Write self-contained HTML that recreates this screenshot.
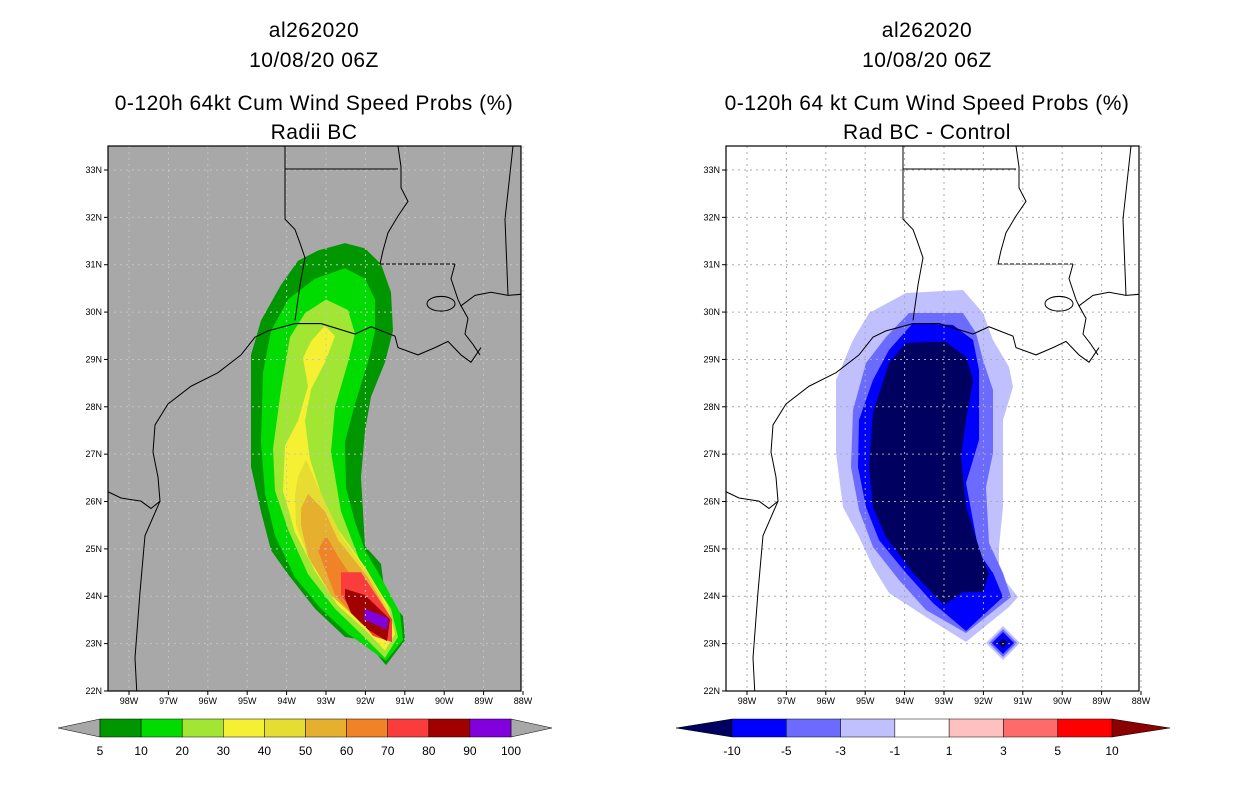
<!DOCTYPE html>
<html><head><meta charset="utf-8">
<style>
body{margin:0;background:#fff;width:1236px;height:800px;overflow:hidden;font-family:"Liberation Sans",sans-serif}
svg{position:absolute;left:0;top:0}
.t{font-size:21px;text-anchor:middle;fill:#000;letter-spacing:0.5px}
.tk{font-size:9px;fill:#000}
.cb{font-size:12px;text-anchor:middle;fill:#000}
</style></head><body>
<svg id="s" width="1236" height="800">
<defs>
<clipPath id="frameclip"><rect x="0" y="0" width="413" height="545"/></clipPath>
<g id="coast" fill="none" stroke="#000" stroke-width="1">
<polyline points="30,545 27,490 32,427 37,373 52,340 50,317 45,293 47,267 60,247 83,230 110,217 133,200 147,183 160,177 187,170 213,170 247,180 263,173 287,182 290,193 310,200 327,193 340,187 353,200 363,207 373,193"/>
<polyline points="0,331 13,337 33,340 43,347 52,340"/>
<polyline points="177,0 177,70 187,80 192,93 197,107 192,133 187,167"/>
<polyline points="177,22 290,22"/>
<polyline points="290,0 293,20 293,40 300,53 290,67 280,83 275,100 272,113"/>
<polyline points="272,113 347,113" stroke-dasharray="4,2"/>
<polyline points="347,113 343,127 350,147 353,153 367,143 383,140 400,143 413,142"/>
<polyline points="405,0 397,70 400,143"/>
<ellipse cx="333" cy="151" rx="14" ry="7"/>
<polyline points="353,153 360,165 357,180 365,190 372,200"/>
</g>
</defs>
<g id="titles"></g>
<g id="left" transform="translate(108,146)"></g>
<g id="right" transform="translate(726,146)"></g>
<g id="cbars"></g>
</svg>
<script>
const NS="http://www.w3.org/2000/svg";
const lonTicks=[98,97,96,95,94,93,92,91,90,89,88];
const latTicks=[33,32,31,30,29,28,27,26,25,24,23,22];
const probLevels=["5","10","20","30","40","50","60","70","80","90","100"];
const probColors=["#009600","#00dc00","#a0e632","#f5f032","#e6dc32","#e6af2d","#f08228","#fa3c3c","#a00000","#8200dc"];
const diffLevels=["-10","-5","-3","-1","1","3","5","10"];
const diffColors=["#0000ff","#6b6bff","#c0c0ff","#ffffff","#ffc0c0","#ff6b6b","#ff0000"];
const probSwath=[
[[237,93],[257,98],[273,113],[283,140],[285,177],[277,207],[263,240],[257,273],[253,317],[257,383],[273,400],[277,430],[295,450],[297,473],[278,497],[257,473],[237,470],[207,443],[180,410],[163,387],[153,350],[143,307],[143,233],[143,200],[153,167],[173,133],[190,110],[210,100]],
[[237,117],[257,127],[267,147],[267,177],[260,207],[247,247],[237,283],[238,327],[247,360],[257,387],[273,413],[292,447],[295,473],[278,493],[240,467],[213,443],[187,413],[167,373],[157,333],[153,283],[155,217],[163,177],[180,147],[207,127]],
[[218,147],[240,157],[247,180],[240,207],[227,250],[223,293],[233,350],[253,400],[283,443],[290,470],[277,490],[253,467],[227,443],[200,410],[180,367],[167,330],[165,290],[173,233],[182,183],[197,160]],
[[217,172],[227,182],[217,207],[203,233],[197,263],[202,300],[213,333],[230,367],[257,403],[280,440],[287,467],[277,483],[257,463],[230,440],[207,407],[187,370],[175,330],[177,287],[190,263],[200,230],[195,203],[203,187]],
[[198,300],[213,333],[233,373],[263,413],[282,447],[282,473],[267,463],[233,437],[203,400],[188,363],[187,333],[190,317]],
[[200,333],[217,350],[230,377],[260,413],[280,447],[280,473],[257,460],[223,430],[200,393],[193,363],[193,347]],
[[218,373],[230,393],[240,407],[267,430],[280,450],[278,473],[253,457],[227,430],[210,387]],
[[233,408],[253,408],[284,453],[284,475],[265,469],[243,443],[233,430]],
[[237,424],[257,430],[282,453],[279,474],[260,463],[243,447],[237,433]],
[[257,443],[280,452],[279,463],[256,453]]
];
const diffSwath=[
[[180,147],[237,144],[257,167],[267,194],[283,221],[287,241],[277,274],[277,361],[273,401],[273,427],[292,451],[283,461],[240,496],[200,471],[163,447],[147,421],[133,391],[117,361],[110,307],[110,234],[127,194],[143,167]],
[[183,167],[237,167],[250,187],[257,214],[267,244],[267,307],[260,341],[263,397],[277,427],[285,451],[240,487],[200,464],[173,434],[147,401],[133,364],[125,321],[127,264],[140,217],[160,191]],
[[187,177],[227,179],[247,194],[253,224],[253,294],[240,337],[253,407],[267,427],[277,451],[240,485],[207,457],[180,427],[153,394],[140,361],[132,321],[133,274],[147,234],[163,204]],
[[200,196],[220,196],[240,211],[247,234],[240,274],[235,311],[240,361],[257,414],[263,427],[257,446],[237,446],[218,459],[187,427],[160,391],[147,361],[143,321],[147,267],[163,217],[180,197]]
];
const diffSpot=[17,14,11,5];
const spotColors=["#c0c0ff","#6b6bff","#0000ff","#000060"];
const xL=lon=>21+(98-lon)*39.4, yL=lat=>24+(33-lat)*47.36;
function el(tag,attrs,parent){const e=document.createElementNS(NS,tag);for(const k in attrs)e.setAttribute(k,attrs[k]);parent.appendChild(e);return e;}
const T=document.getElementById('titles');
[[314,["al262020","10/08/20 06Z","0-120h 64kt Cum Wind Speed Probs (%)","Radii BC"]],[927,["al262020","10/08/20 06Z","0-120h 64 kt Cum Wind Speed Probs (%)","Rad BC - Control"]]].forEach((p,i)=>{
 const ys=[37,67,110,139];
 p[1].forEach((s,j)=>{const t=el('text',{x:p[0],y:ys[j],class:'t'},T);t.textContent=s;
 
 });
});
function panel(g,bg,gridCol,polys,cols,isDiff,name){
 el('rect',{x:0,y:0,width:413,height:545,fill:bg},g);
 const pg=el('g',{transform:isDiff?'':'scale(1,1.0446)'},g);
 polys.forEach((pp,i)=>{const p=el('polygon',{points:pp.map(q=>q.join(',')).join(' '),fill:cols[i]},pg);
  
  });
 if(isDiff){diffSpot.forEach((r,i)=>{const cx=277,cy=497;
  const p=el('polygon',{points:`${cx},${cy-r} ${cx+r},${cy} ${cx},${cy+r} ${cx-r},${cy}`,fill:spotColors[i]},g);
  
  });}
 lonTicks.forEach(l=>{el('line',{x1:xL(l),x2:xL(l),y1:0,y2:545,stroke:gridCol,'stroke-dasharray':'2,4'},g);});
 latTicks.forEach(l=>{el('line',{x1:0,x2:413,y1:yL(l),y2:yL(l),stroke:gridCol,'stroke-dasharray':'2,4'},g);});
 const clip=el('g',{'clip-path':'url(#frameclip)'},g);
 const cg=el('g',{transform:'scale(1,1.0446)'},clip);
 el('use',{href:'#coast'},cg);
 el('rect',{x:0,y:0,width:413,height:545,fill:'none',stroke:'#000','stroke-width':1.2},g);
 lonTicks.forEach(l=>{el('line',{x1:xL(l),x2:xL(l),y1:545,y2:549,stroke:'#000'},g);
  const t=el('text',{x:xL(l),y:558,class:'tk','text-anchor':'middle'},g);t.textContent=l+'W';
  });
 latTicks.forEach(l=>{el('line',{x1:-4,x2:0,y1:yL(l),y2:yL(l),stroke:'#000'},g);
  const t=el('text',{x:-6,y:yL(l)+3,class:'tk','text-anchor':'end'},g);t.textContent=l+'N';
  });
}
panel(document.getElementById('left'),'#a8a8a8','#c4c4c4',probSwath,probColors.slice(0,10),false,'prob');
panel(document.getElementById('right'),'#ffffff','#aaaaaa',diffSwath,["#c0c0ff","#6b6bff","#0000ff","#000060"],true,'diff');
const C=document.getElementById('cbars');
function cbar(x0,x1,lt,rt,cols,labels,lc,rc,name){
 const n=cols.length,w=(x1-x0)/n,y0=719,y1=737,m=728;
 el('polygon',{points:`${lt},${m} ${x0},${y0} ${x0},${y1}`,fill:lc,stroke:'#000','stroke-width':0.5},C);
 el('polygon',{points:`${rt},${m} ${x1},${y0} ${x1},${y1}`,fill:rc,stroke:'#000','stroke-width':0.5},C);
 cols.forEach((c,i)=>{const r=el('rect',{x:x0+i*w,y:y0,width:w,height:y1-y0,fill:c,stroke:'#000','stroke-width':0.5},C);
  });
 labels.forEach((s,i)=>{const t=el('text',{x:x0+i*w,y:755,class:'cb'},C);t.textContent=s;
  });
}
cbar(100,511,58,552,probColors,probLevels,'#a8a8a8','#a8a8a8','prob-colorbar');
cbar(732,1112,676,1170,diffColors,diffLevels,'#000060','#8b0000','diff-colorbar');
</script>
</body></html>
